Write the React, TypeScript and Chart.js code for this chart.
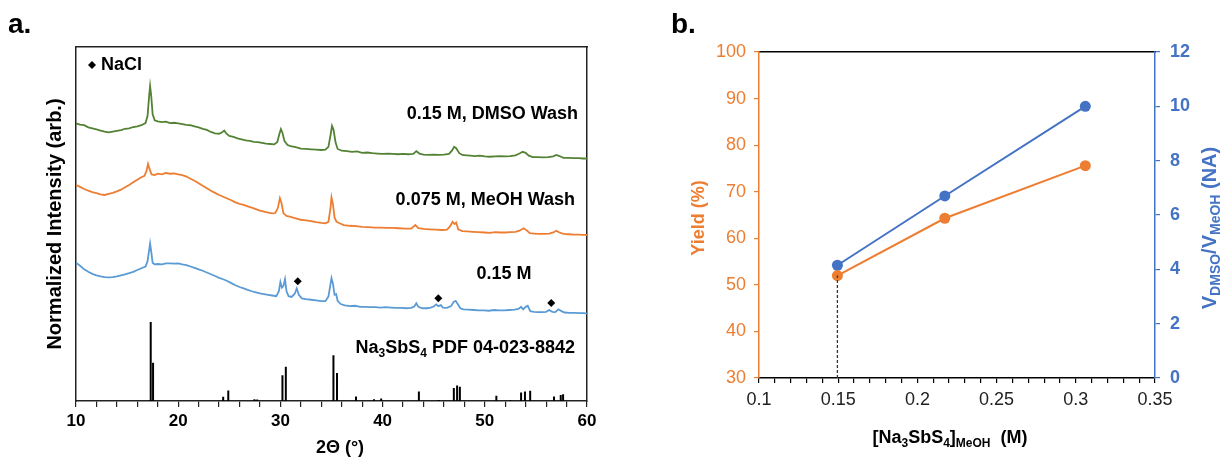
import React, { useEffect, useRef } from 'react';
import { Chart, registerables } from 'chart.js';

Chart.register(...registerables);

// ---------- Panel a: XRD patterns ----------
const dmsoTheta = [10.0, 10.4, 10.8, 11.2, 11.6, 12.0, 12.4, 12.8, 13.2, 13.6, 14.0, 14.4, 14.8, 15.2, 15.6, 16.0, 16.4, 16.8, 17.0, 17.15, 17.25, 17.35, 17.5, 17.7, 18.0, 18.4, 18.8, 19.2, 19.6, 20.0, 20.4, 20.8, 21.2, 21.6, 22.0, 22.4, 22.8, 23.2, 23.6, 24.0, 24.3, 24.5, 24.7, 25.0, 25.4, 25.8, 26.2, 26.6, 27.0, 27.4, 27.8, 28.2, 28.6, 29.0, 29.4, 29.7, 29.9, 30.05, 30.2, 30.4, 30.7, 31.0, 31.5, 32.0, 32.5, 33.0, 33.5, 34.0, 34.4, 34.7, 34.9, 35.05, 35.2, 35.4, 35.6, 36.0, 36.5, 37.0, 37.5, 38.0, 38.5, 39.0, 39.5, 40.0, 40.5, 41.0, 41.5, 42.0, 42.5, 43.0, 43.3, 43.6, 44.0, 44.5, 45.0, 45.5, 46.0, 46.5, 46.8, 47.0, 47.2, 47.5, 47.8, 48.2, 48.6, 49.0, 49.5, 50.0, 50.5, 51.0, 51.5, 52.0, 52.5, 53.0, 53.4, 53.7, 54.0, 54.3, 54.7, 55.2, 55.7, 56.2, 56.7, 57.0, 57.3, 57.7, 58.2, 58.7, 59.2, 59.6, 60.0];
const dmsoInt = [78.4, 78.1, 77.9, 77.3, 77.0, 76.7, 76.4, 76.1, 75.9, 76.1, 76.3, 76.5, 76.9, 77.0, 77.4, 77.6, 77.9, 78.5, 80.5, 86.0, 89.0, 86.5, 81.0, 79.3, 79.0, 78.8, 78.9, 78.5, 78.6, 78.4, 78.2, 78.0, 77.9, 77.6, 77.3, 76.9, 76.6, 76.0, 75.6, 75.5, 75.9, 76.4, 75.6, 74.9, 74.6, 74.2, 73.9, 73.6, 73.5, 73.2, 73.1, 72.9, 72.7, 72.6, 72.5, 73.2, 75.4, 76.8, 75.8, 73.4, 72.3, 72.0, 71.7, 71.3, 71.2, 71.1, 71.0, 70.9, 71.0, 71.8, 75.0, 77.7, 76.6, 73.0, 71.2, 70.7, 70.6, 70.4, 70.5, 70.1, 70.2, 70.0, 69.9, 69.8, 69.9, 69.8, 69.7, 69.8, 69.7, 69.8, 70.6, 69.9, 69.6, 69.5, 69.6, 69.5, 69.6, 69.8, 70.8, 71.8, 71.4, 70.0, 69.5, 69.4, 69.3, 69.2, 69.3, 69.1, 69.0, 69.1, 69.2, 69.1, 69.2, 69.4, 69.9, 70.4, 70.1, 69.3, 68.9, 68.9, 68.8, 68.9, 69.1, 69.5, 69.2, 68.7, 68.7, 68.6, 68.6, 68.5, 68.5];

const meohTheta = [10.0, 10.4, 10.8, 11.2, 11.6, 12.0, 12.4, 12.8, 13.2, 13.6, 14.0, 14.4, 14.8, 15.2, 15.6, 16.0, 16.4, 16.7, 16.9, 17.05, 17.2, 17.4, 17.7, 18.0, 18.4, 18.8, 19.2, 19.6, 20.0, 20.4, 20.8, 21.2, 21.6, 22.0, 22.4, 22.8, 23.2, 23.6, 24.0, 24.4, 24.8, 25.2, 25.6, 26.0, 26.4, 26.8, 27.2, 27.6, 28.0, 28.4, 28.8, 29.2, 29.5, 29.75, 29.95, 30.1, 30.3, 30.6, 31.0, 31.5, 32.0, 32.5, 33.0, 33.5, 34.0, 34.4, 34.7, 34.9, 35.0, 35.15, 35.3, 35.5, 35.8, 36.2, 36.8, 37.4, 38.0, 38.6, 39.2, 39.8, 40.4, 41.0, 41.6, 42.2, 42.8, 43.2, 43.5, 44.0, 44.6, 45.2, 45.8, 46.3, 46.6, 46.85, 47.05, 47.2, 47.4, 47.8, 48.3, 48.8, 49.4, 50.0, 50.5, 51.0, 51.5, 52.0, 52.5, 53.0, 53.4, 53.8, 54.1, 54.4, 54.8, 55.3, 55.8, 56.3, 56.7, 57.0, 57.3, 57.7, 58.2, 58.7, 59.2, 59.6, 60.0];
const meohInt = [61.0, 60.5, 59.9, 59.4, 59.0, 58.7, 58.4, 58.2, 58.5, 58.8, 59.2, 59.7, 60.4, 61.0, 61.8, 62.5, 63.2, 63.6, 65.0, 67.0, 65.5, 64.0, 63.8, 64.2, 64.0, 64.4, 64.2, 64.3, 64.0, 63.8, 63.4, 62.8, 62.2, 61.5, 60.8, 60.1, 59.4, 58.8, 58.2, 57.7, 57.2, 56.7, 56.1, 55.7, 55.4, 55.0, 54.6, 54.2, 53.8, 53.5, 53.2, 53.0, 53.1, 54.5, 57.3, 56.0, 53.0, 52.3, 52.0, 51.6, 51.2, 51.0, 50.8, 50.5, 50.3, 50.2, 50.6, 54.5, 57.5, 55.5, 51.8, 50.6, 50.2, 49.7, 49.5, 49.4, 49.2, 49.1, 49.0, 49.0, 48.9, 48.9, 48.8, 48.7, 48.7, 49.7, 48.8, 48.6, 48.5, 48.4, 48.3, 48.4, 49.3, 50.6, 50.0, 50.4, 48.5, 48.0, 47.9, 47.8, 47.7, 47.6, 47.5, 47.7, 47.6, 47.6, 47.7, 47.8, 48.1, 48.8, 48.2, 47.4, 47.3, 47.2, 47.2, 47.3, 47.6, 48.1, 47.6, 47.2, 47.1, 47.0, 47.0, 46.9, 46.9];

const rawTheta = [10.0, 10.4, 10.8, 11.2, 11.6, 12.0, 12.4, 12.8, 13.2, 13.6, 14.0, 14.4, 14.8, 15.2, 15.6, 16.0, 16.4, 16.8, 17.0, 17.15, 17.25, 17.35, 17.5, 17.7, 18.0, 18.4, 18.8, 19.2, 19.6, 20.0, 20.4, 20.8, 21.2, 21.6, 22.0, 22.4, 22.8, 23.2, 23.6, 24.0, 24.4, 24.8, 25.2, 25.6, 26.0, 26.4, 26.8, 27.2, 27.6, 28.0, 28.4, 28.8, 29.2, 29.6, 29.85, 30.0, 30.15, 30.3, 30.45, 30.6, 30.8, 31.1, 31.4, 31.6, 31.8, 32.1, 32.5, 33.0, 33.5, 34.0, 34.4, 34.7, 34.9, 35.0, 35.15, 35.3, 35.45, 35.6, 35.9, 36.3, 36.8, 37.3, 37.8, 38.3, 38.8, 39.3, 39.8, 40.3, 40.8, 41.3, 41.8, 42.3, 42.8, 43.1, 43.3, 43.5, 43.9, 44.3, 44.7, 45.0, 45.25, 45.45, 45.7, 45.9, 46.3, 46.7, 46.95, 47.15, 47.35, 47.6, 47.9, 48.4, 48.9, 49.4, 49.9, 50.4, 50.9, 51.4, 51.9, 52.4, 52.9, 53.3, 53.55, 53.75, 54.0, 54.2, 54.45, 54.8, 55.2, 55.6, 56.0, 56.3, 56.6, 56.9, 57.2, 57.5, 57.8, 58.3, 58.8, 59.3, 59.7, 60.0];
const rawInt = [39.1, 38.2, 37.2, 36.5, 35.9, 35.5, 35.2, 35.0, 34.9, 35.0, 35.2, 35.5, 35.8, 36.1, 36.5, 37.0, 37.5, 38.0, 39.5, 42.5, 44.5, 42.5, 39.0, 38.6, 38.7, 38.6, 38.9, 38.9, 38.8, 38.9, 38.6, 38.4, 38.0, 37.6, 37.2, 36.8, 36.3, 35.8, 35.3, 34.8, 34.4, 33.9, 33.3, 32.7, 32.2, 31.8, 31.4, 31.0, 30.7, 30.4, 30.2, 30.0, 29.8, 29.6, 31.0, 33.6, 32.0, 32.5, 34.4, 31.0, 29.6, 29.4, 30.3, 31.8, 30.0, 29.0, 28.8, 28.6, 28.4, 28.2, 28.2, 29.5, 33.0, 34.7, 33.0, 30.0, 30.2, 28.3, 27.4, 27.0, 26.8, 26.9, 26.6, 26.6, 26.5, 26.5, 26.4, 26.5, 26.4, 26.3, 26.3, 26.2, 26.3, 26.7, 27.6, 26.6, 26.2, 26.2, 26.4, 26.7, 27.3, 26.8, 27.1, 26.4, 26.3, 26.8, 28.0, 28.3, 27.4, 26.2, 25.9, 25.8, 25.7, 25.6, 25.6, 25.5, 25.7, 25.6, 25.6, 25.7, 25.8, 26.0, 26.6, 25.9, 26.6, 26.9, 25.4, 25.2, 25.1, 25.1, 25.2, 25.7, 25.2, 25.1, 25.9, 25.4, 25.0, 24.9, 24.9, 24.8, 24.8, 24.7];

const refTheta = [17.31, 17.54, 24.4, 24.9, 27.46, 27.73, 30.2, 30.53, 35.19, 35.54, 37.4, 39.16, 39.86, 43.55, 45.5, 46.97, 47.29, 47.56, 51.13, 52.5, 53.55, 53.93, 54.44, 56.77, 57.43, 57.66];
const refInt = [22.3, 10.8, 1.2, 3.0, 0.5, 0.4, 7.3, 9.7, 12.9, 7.9, 1.3, 0.5, 0.7, 2.7, 0.3, 3.7, 4.4, 4.0, 1.5, 0.2, 2.4, 2.7, 2.9, 1.3, 1.7, 1.9];

const naclTheta = [31.7, 45.45, 56.5];
const naclInt = [33.8, 29.0, 27.7];

// ---------- Panel b: yield & volume ratio ----------
const concM = [0.1495, 0.2173, 0.306];
const yieldPct = [52.0, 64.3, 75.6];
const volRatio = [4.15, 6.7, 10.0];

const FONT = '"Liberation Sans", Arial, Helvetica, sans-serif';
const GREEN = '#548235';
const ORANGE = '#ED7D31';
const LBLUE = '#5B9BD5';
const BLUE = '#4472C4';

Chart.defaults.font.family = FONT;

type Part = { t: string; sub?: boolean };

function drawRich(
  ctx: CanvasRenderingContext2D,
  parts: Part[],
  x: number,
  y: number,
  size: number,
  color: string,
  align: 'left' | 'center' | 'right',
  rotate = false,
  weight = 'bold'
) {
  ctx.save();
  const mainF = `${weight} ${size}px ${FONT}`;
  const subSize = Math.round(size * 0.68);
  const subF = `${weight} ${subSize}px ${FONT}`;
  let total = 0;
  const widths = parts.map((p) => {
    ctx.font = p.sub ? subF : mainF;
    const w = ctx.measureText(p.t).width;
    total += w;
    return w;
  });
  ctx.translate(x, y);
  if (rotate) ctx.rotate(-Math.PI / 2);
  let cx = align === 'left' ? 0 : align === 'center' ? -total / 2 : -total;
  ctx.fillStyle = color;
  ctx.textBaseline = 'middle';
  ctx.textAlign = 'left';
  parts.forEach((p, i) => {
    ctx.font = p.sub ? subF : mainF;
    ctx.fillText(p.t, cx, p.sub ? size * 0.32 : 0);
    cx += widths[i];
  });
  ctx.restore();
}

function diamond(ctx: CanvasRenderingContext2D, x: number, y: number, r: number) {
  ctx.save();
  ctx.fillStyle = '#000';
  ctx.beginPath();
  ctx.moveTo(x, y - r);
  ctx.lineTo(x + r, y);
  ctx.lineTo(x, y + r);
  ctx.lineTo(x - r, y);
  ctx.closePath();
  ctx.fill();
  ctx.restore();
}

const toPts = (xs: number[], ys: number[]) => xs.map((x, i) => ({ x, y: ys[i] }));

export default function App() {
  const refA = useRef<HTMLCanvasElement>(null);
  const refB = useRef<HTMLCanvasElement>(null);

  useEffect(() => {
    const BOX = '#222';
    const sticks: { x: number; y: number | null }[] = [];
    refTheta.forEach((t, i) => {
      sticks.push({ x: t, y: 0 }, { x: t, y: refInt[i] }, { x: t, y: null });
    });

    const textA = {
      id: 'textA',
      afterDraw(chart: any) {
        const ctx = chart.ctx as CanvasRenderingContext2D;
        const a = chart.chartArea;
        drawRich(ctx, [{ t: 'a.' }], 8, 25, 28, '#000', 'left');
        diamond(ctx, 92, 65, 4);
        drawRich(ctx, [{ t: 'NaCl' }], 101, 65, 18, '#000', 'left');
        drawRich(ctx, [{ t: '0.15 M, DMSO Wash' }], 578, 114, 18, '#000', 'right');
        drawRich(ctx, [{ t: '0.075 M, MeOH Wash' }], 575, 200, 18, '#000', 'right');
        drawRich(ctx, [{ t: '0.15 M' }], 504, 274, 18, '#000', 'center');
        drawRich(
          ctx,
          [{ t: 'Na' }, { t: '3', sub: true }, { t: 'SbS' }, { t: '4', sub: true }, { t: ' PDF 04-023-8842' }],
          575, 348, 18, '#000', 'right'
        );
        drawRich(ctx, [{ t: 'Normalized Intensity (arb.)' }], 55, (a.top + a.bottom) / 2, 20, '#000', 'center', true);
        drawRich(ctx, [{ t: '2\u0398 (\u00B0)' }], 340, 448, 18, '#000', 'center');
      },
    };

    const chartA = new Chart(refA.current as HTMLCanvasElement, {
      type: 'line',
      data: {
        datasets: [
          { data: toPts(dmsoTheta, dmsoInt), borderColor: GREEN, borderWidth: 1.8, pointRadius: 0 },
          { data: toPts(meohTheta, meohInt), borderColor: ORANGE, borderWidth: 1.8, pointRadius: 0 },
          { data: toPts(rawTheta, rawInt), borderColor: LBLUE, borderWidth: 1.8, pointRadius: 0 },
          { data: sticks, borderColor: '#000', borderWidth: 2, pointRadius: 0, spanGaps: false, borderCapStyle: 'butt' },
          {
            data: toPts(naclTheta, naclInt),
            showLine: false,
            pointStyle: 'rectRot',
            pointRadius: 4,
            backgroundColor: '#000',
            borderColor: '#000',
            borderWidth: 0,
          },
        ] as any,
      },
      options: {
        animation: false,
        responsive: false,
        maintainAspectRatio: false,
        events: [],
        plugins: { legend: { display: false }, tooltip: { enabled: false } },
        layout: { padding: { top: 47, right: 33, left: 0, bottom: 0 } },
        scales: {
          x: {
            type: 'linear',
            min: 10,
            max: 60,
            offset: false,
            ticks: {
              stepSize: 2,
              autoSkip: false,
              maxTicksLimit: 100,
              maxRotation: 0,
              minRotation: 0,
              padding: 4,
              color: '#000',
              font: { size: 17, weight: 'bold' },
              callback: (v: any) => (Number(v) % 10 === 0 ? String(v) : ''),
            },
            grid: { display: true, drawOnChartArea: false, drawTicks: true, tickLength: 6, color: BOX, lineWidth: 1.2 },
            border: { display: true, color: BOX, width: 1.5 },
            afterFit: (s: any) => { s.height = 56; },
          },
          xTop: {
            type: 'linear',
            position: 'top',
            min: 10,
            max: 60,
            ticks: { display: false },
            grid: { display: false },
            border: { display: true, color: BOX, width: 1.5 },
            afterFit: (s: any) => { s.height = 0; },
          },
          y: {
            type: 'linear',
            min: 0,
            max: 100,
            ticks: { display: false },
            grid: { display: false },
            border: { display: true, color: BOX, width: 1.5 },
            afterFit: (s: any) => { s.width = 76; },
          },
          yRight: {
            type: 'linear',
            position: 'right',
            min: 0,
            max: 100,
            ticks: { display: false },
            grid: { display: false },
            border: { display: true, color: BOX, width: 1.5 },
            afterFit: (s: any) => { s.width = 0; },
          },
        } as any,
      },
      plugins: [textA],
    });

    const textB = {
      id: 'textB',
      afterDraw(chart: any) {
        const ctx = chart.ctx as CanvasRenderingContext2D;
        const off = 620;
        drawRich(ctx, [{ t: 'b.' }], 671 - off, 25, 28, '#000', 'left');
        drawRich(ctx, [{ t: 'Yield (%)' }], 699 - off, 218, 18, ORANGE, 'center', true);
        drawRich(
          ctx,
          [{ t: 'V' }, { t: 'DMSO', sub: true }, { t: '/V' }, { t: 'MeOH', sub: true }, { t: ' (NA)' }],
          1210 - off, 228, 20, BLUE, 'center', true
        );
        drawRich(
          ctx,
          [{ t: '[Na' }, { t: '3', sub: true }, { t: 'SbS' }, { t: '4', sub: true }, { t: ']' }, { t: 'MeOH', sub: true }, { t: '  (M)' }],
          950 - off, 438, 18, '#000', 'center'
        );
      },
    };

    const chartB = new Chart(refB.current as HTMLCanvasElement, {
      type: 'line',
      data: {
        datasets: [
          {
            data: [
              { x: concM[0], y: 30 },
              { x: concM[0], y: yieldPct[0] },
            ],
            yAxisID: 'y',
            borderColor: '#333',
            borderWidth: 1.3,
            borderDash: [3, 2],
            pointRadius: 0,
          },
          {
            data: toPts(concM, yieldPct),
            yAxisID: 'y',
            borderColor: ORANGE,
            backgroundColor: ORANGE,
            borderWidth: 2,
            pointRadius: 5.5,
            pointBorderWidth: 0,
          },
          {
            data: toPts(concM, volRatio),
            yAxisID: 'y1',
            borderColor: BLUE,
            backgroundColor: BLUE,
            borderWidth: 2,
            pointRadius: 5.5,
            pointBorderWidth: 0,
          },
        ] as any,
      },
      options: {
        animation: false,
        responsive: false,
        maintainAspectRatio: false,
        events: [],
        plugins: { legend: { display: false }, tooltip: { enabled: false } },
        layout: { padding: { top: 52, right: 0, left: 0, bottom: 0 } },
        scales: {
          x: {
            type: 'linear',
            min: 0.1,
            max: 0.35,
            offset: false,
            ticks: {
              stepSize: 0.01,
              autoSkip: false,
              maxTicksLimit: 100,
              maxRotation: 0,
              minRotation: 0,
              padding: 6,
              color: '#222',
              font: { size: 18 },
              callback: (v: any) => {
                const r = Math.round(Number(v) * 100);
                return r % 5 === 0 ? String(r / 100) : '';
              },
            },
            grid: { display: true, drawOnChartArea: false, drawTicks: true, tickLength: 5, color: '#000', lineWidth: 1.2 },
            border: { display: true, color: '#000', width: 1.5 },
            afterFit: (s: any) => { s.height = 79; },
          },
          xTop: {
            type: 'linear',
            position: 'top',
            min: 0.1,
            max: 0.35,
            ticks: { display: false },
            grid: { display: false },
            border: { display: true, color: '#000', width: 1.5 },
            afterFit: (s: any) => { s.height = 0; },
          },
          y: {
            type: 'linear',
            position: 'left',
            min: 30,
            max: 100,
            ticks: { stepSize: 10, padding: 8, color: ORANGE, font: { size: 18 } },
            grid: { display: true, drawOnChartArea: false, drawTicks: true, tickLength: 5, color: ORANGE, lineWidth: 1.2 },
            border: { display: true, color: ORANGE, width: 1.5 },
            afterFit: (s: any) => { s.width = 139; },
          },
          y1: {
            type: 'linear',
            position: 'right',
            min: 0,
            max: 12,
            ticks: { stepSize: 2, padding: 10, color: BLUE, font: { size: 18, weight: 'bold' } },
            grid: { display: true, drawOnChartArea: false, drawTicks: true, tickLength: 5, color: BLUE, lineWidth: 1.2 },
            border: { display: true, color: BLUE, width: 1.5 },
            afterFit: (s: any) => { s.width = 70; },
          },
        } as any,
      },
      plugins: [textB],
    });

    return () => {
      chartA.destroy();
      chartB.destroy();
    };
  }, []);

  return (
    <div style={{ position: 'fixed', left: 0, top: 0, width: 1225, height: 457, background: '#fff', overflow: 'hidden' }}>
      <canvas ref={refA} width={620} height={457} style={{ position: 'absolute', left: 0, top: 0, width: 620, height: 457 }} />
      <canvas ref={refB} width={605} height={457} style={{ position: 'absolute', left: 620, top: 0, width: 605, height: 457 }} />
    </div>
  );
}
